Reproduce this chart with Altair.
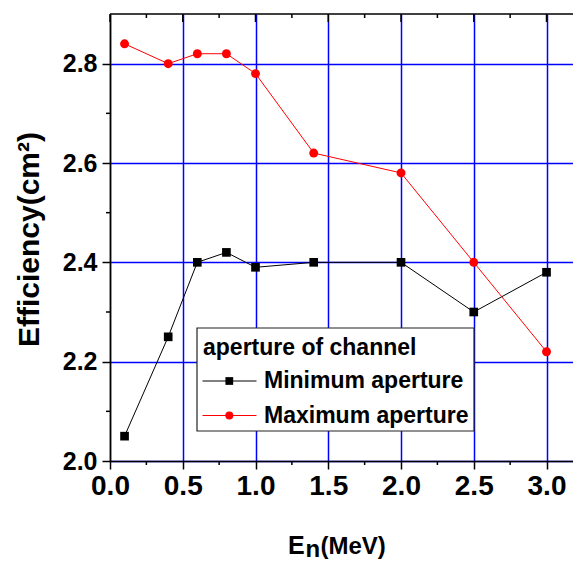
import altair as alt
import pandas as pd

# ---- data ----
energy = [0.1, 0.4, 0.6, 0.8, 1.0, 1.4, 2.0, 2.5, 3.0]
min_aperture = [2.05, 2.25, 2.40, 2.42, 2.39, 2.40, 2.40, 2.30, 2.38]
max_aperture = [2.84, 2.80, 2.82, 2.82, 2.78, 2.62, 2.58, 2.40, 2.22]
series_names = ["Minimum aperture", "Maximum aperture"]
series_colors = ["#000000", "#FF0000"]
series_shapes = ["square", "circle"]
series_sizes = [75, 80]
legend_title = "aperture of channel"
y_title = "Efficiency(cm²)"
x_title_parts = ["E", "n", "(MeV)"]

x_major = [0.0, 0.5, 1.0, 1.5, 2.0, 2.5, 3.0]
x_minor = [0.25, 0.75, 1.25, 1.75, 2.25, 2.75]
y_major = [2.0, 2.2, 2.4, 2.6, 2.8]
y_minor = [2.1, 2.3, 2.5, 2.7]

# ---- layout ----
W, H = 463, 447
FONT = "Liberation Sans"
BLUE = "#0000FF"

xscale = alt.Scale(domain=[0, 3.182], nice=False, zero=False)
yscale = alt.Scale(domain=[2.0, 2.9], nice=False, zero=False)

xaxis = alt.Axis(
    values=x_major, format=".1f", title=None,
    grid=True, gridColor=BLUE, gridWidth=1.5, gridOpacity=1,
    domainColor="black", domainWidth=1.5,
    tickColor="black", tickWidth=1.5, tickSize=8,
    labelFont=FONT, labelFontSize=28, labelFontWeight="bold",
    labelColor="black", labelPadding=3, labelFlush=False,
)
yaxis = alt.Axis(
    values=y_major, format=".1f", title=y_title,
    grid=True, gridColor=BLUE, gridWidth=1.5, gridOpacity=1,
    domainColor="black", domainWidth=1.5,
    tickColor="black", tickWidth=1.5, tickSize=8,
    labelFont=FONT, labelFontSize=25, labelFontWeight="bold",
    labelColor="black", labelPadding=5, labelFlush=False,
    titleFont=FONT, titleFontSize=30, titleFontWeight="bold", titleColor="black",
    titleAngle=270, titleAlign="center", titleBaseline="middle",
    titleX=-81, titleY=225,
)


def X(field):
    return alt.X(f"{field}:Q", scale=xscale, axis=xaxis)


def Y(field):
    return alt.Y(f"{field}:Q", scale=yscale, axis=yaxis)


layers = []

# minor / mirrored ticks
df_xmaj = pd.DataFrame({"x": x_major})
df_xmin = pd.DataFrame({"x": x_minor})
df_ymin = pd.DataFrame({"y": y_minor})

layers.append(alt.Chart(df_xmin).mark_rule(color="black", strokeWidth=1.5).encode(
    x=X("x"), y=alt.value(H), y2=alt.value(H + 4)))
layers.append(alt.Chart(df_ymin).mark_rule(color="black", strokeWidth=1.5).encode(
    y=Y("y"), x=alt.value(-4), x2=alt.value(0)))
layers.append(alt.Chart(df_xmaj).mark_rule(color="black", strokeWidth=1.5).encode(
    x=X("x"), y=alt.value(0), y2=alt.value(8)))
layers.append(alt.Chart(df_xmin).mark_rule(color="black", strokeWidth=1.5).encode(
    x=X("x"), y=alt.value(0), y2=alt.value(4)))
# top border
layers.append(alt.Chart(pd.DataFrame({"a": [0]})).mark_rule(color="black", strokeWidth=1.5).encode(
    x=alt.value(0), x2=alt.value(W), y=alt.value(0)))

# data series
for name, vals, col, shp, sz in zip(series_names, [min_aperture, max_aperture],
                                    series_colors, series_shapes, series_sizes):
    df = pd.DataFrame({"energy": energy, "eff": vals})
    layers.append(alt.Chart(df).mark_line(color=col, strokeWidth=1).encode(
        x=X("energy"), y=Y("eff")))
    layers.append(alt.Chart(df).mark_point(color=col, filled=True, opacity=1,
                                           shape=shp, size=sz).encode(
        x=X("energy"), y=Y("eff")))

# legend box (manual, positioned in pixels)
LX0, LX1, LY0, LY1 = 87, 364, 314, 417
layers.append(alt.Chart(pd.DataFrame({"a": [0]})).mark_rect(
    fill="white", stroke="#222222", strokeWidth=1.2).encode(
    x=alt.value(LX0), x2=alt.value(LX1), y=alt.value(LY0), y2=alt.value(LY1)))
layers.append(alt.Chart(pd.DataFrame({"t": [legend_title]})).mark_text(
    font=FONT, fontSize=23, fontWeight="bold", color="black",
    align="left", baseline="middle").encode(
    text="t:N", x=alt.value(93), y=alt.value(334)))
row_y = [367, 401.5]
for name, col, shp, sz, ry in zip(series_names, series_colors, series_shapes,
                                  series_sizes, row_y):
    layers.append(alt.Chart(pd.DataFrame({"a": [0]})).mark_rule(
        color=col, strokeWidth=1).encode(
        x=alt.value(92.5), x2=alt.value(146.5), y=alt.value(ry)))
    layers.append(alt.Chart(pd.DataFrame({"a": [0]})).mark_point(
        color=col, filled=True, opacity=1, shape=shp, size=sz * 0.8).encode(
        x=alt.value(119.3), y=alt.value(ry)))
    layers.append(alt.Chart(pd.DataFrame({"t": [name]})).mark_text(
        font=FONT, fontSize=23, fontWeight="bold", color="black",
        align="left", baseline="middle").encode(
        text="t:N", x=alt.value(154), y=alt.value(ry)))

# x-axis title with subscript, built from text marks
title_specs = [(x_title_parts[0], 178, 540, 25), (x_title_parts[1], 195.5, 543, 24),
               (x_title_parts[2], 210.5, 540, 24)]
for txt, tx, ty, fs in title_specs:
    layers.append(alt.Chart(pd.DataFrame({"t": [txt]})).mark_text(
        font=FONT, fontSize=fs, fontWeight="bold", color="black",
        align="left", baseline="alphabetic").encode(
        text="t:N", x=alt.value(tx), y=alt.value(ty)))

chart = alt.layer(*layers).properties(
    width=W, height=H,
    autosize=alt.AutoSizeParams(type="none"),
    padding={"left": 110, "top": 14, "right": 0, "bottom": 102},
    background="white",
).configure_view(stroke=None)

chart.save("out.html", embed_options={"renderer": "svg", "actions": False})
